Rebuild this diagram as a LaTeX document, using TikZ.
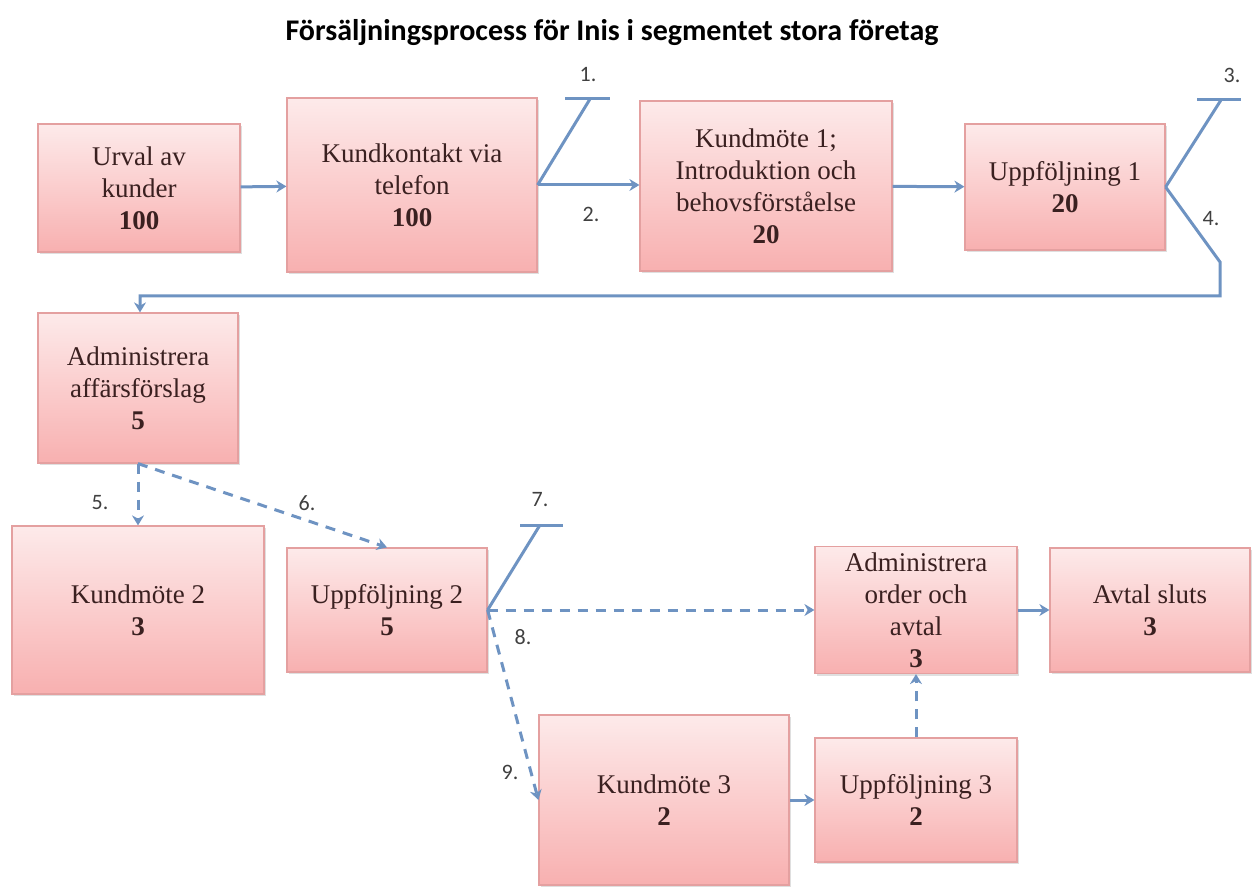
\documentclass[tikz,border=0pt]{standalone}
\usepackage{fontspec}
\setmainfont{Liberation Serif}
\newfontfamily\titlefont{Carlito}
\usetikzlibrary{arrows.meta,shadows}
\definecolor{boxtop}{HTML}{FDEAEA}
\definecolor{boxbot}{HTML}{F8B0B0}
\definecolor{boxedge}{HTML}{E4A0A0}
\definecolor{boxtext}{HTML}{3A2020}
\definecolor{flowblue}{HTML}{6E93C2}

\begin{document}
\begin{tikzpicture}[
      x=0.5pt, y=-0.5pt,
      box/.style={draw=boxedge, line width=0.6pt, top color=boxtop, bottom color=boxbot,
                  align=center, inner sep=3pt, text=boxtext,
                  font=\fontsize{13.5}{16}\selectfont,
                  drop shadow={shadow xshift=1pt, shadow yshift=-1pt, opacity=0.25}},
      num/.style={font=\titlefont\fontsize{11}{12}\selectfont, text=black!75},
      flow/.style={draw=flowblue, line width=1.5pt},
      arr/.style={flow, -{Stealth[length=5pt, width=6pt]}},
      darr/.style={arr, dash pattern=on 5pt off 4pt}
    ]
    \useasboundingbox (0,0) rectangle (1253,887);

    \node[font=\titlefont\bfseries\fontsize{15}{17}\selectfont] (title) at (612,33)
      {Försäljningsprocess för Inis i segmentet stora företag};

    % rad 1
    \node[box, minimum width=101pt, minimum height=64pt] (urval) at (139,188)
      {Urval av\\kunder\\\textbf{100}};
    \node[box, minimum width=125pt, minimum height=87pt] (kontakt) at (412,185)
      {Kundkontakt via\\telefon\\\textbf{100}};
    \node[box, minimum width=126pt, minimum height=85pt] (mote1) at (766,186)
      {Kundmöte 1;\\Introduktion och\\behovsförståelse\\\textbf{20}};
    \node[box, minimum width=100pt, minimum height=63pt] (uppf1) at (1065,187)
      {Uppföljning 1\\\textbf{20}};

    % rad 2
    \node[box, minimum width=100pt, minimum height=75pt] (adm) at (138,388)
      {Administrera\\affärsförslag\\\textbf{5}};

    % rad 3
    \node[box, minimum width=126pt, minimum height=84pt] (mote2) at (138,610)
      {Kundmöte 2\\\textbf{3}};
    \node[box, minimum width=100pt, minimum height=62pt] (uppf2) at (387,610)
      {Uppföljning 2\\\textbf{5}};
    \node[box, minimum width=101pt, minimum height=62pt] (order) at (916,610)
      {Administrera\\order och\\avtal\\\textbf{3}};
    \node[box, minimum width=100pt, minimum height=62pt] (avtal) at (1150,610)
      {Avtal sluts\\\textbf{3}};

    % rad 4
    \node[box, minimum width=125pt, minimum height=85pt] (mote3) at (664,800)
      {Kundmöte 3\\\textbf{2}};
    \node[box, minimum width=101pt, minimum height=62pt] (uppf3) at (916,800)
      {Uppföljning 3\\\textbf{2}};

    % avhopp
    \coordinate (t1) at (590,99);
    \coordinate (t1l) at (565,99);
    \coordinate (t1r) at (610,99);
    \coordinate (t3) at (1221,100);
    \coordinate (t3l) at (1197,100);
    \coordinate (t3r) at (1241,100);
    \coordinate (t7) at (540,525);
    \coordinate (t7l) at (520,525);
    \coordinate (t7r) at (563,525);
    \coordinate (k4a) at (1220,262);
    \coordinate (k4b) at (1220,296);
    \coordinate (k4c) at (140,296);

    \draw[arr] (urval) -- (kontakt);
    \draw[flow] (kontakt.east) -- (t1);
    \draw[flow] (t1l) -- (t1r);
    \draw[arr] (kontakt.east) -- (mote1.west |- kontakt.east);
    \draw[arr] (mote1) -- (uppf1);
    \draw[flow] (uppf1.east) -- (t3);
    \draw[flow] (t3l) -- (t3r);
    \draw[arr] (uppf1.east) -- (k4a) -- (k4b) -- (k4c) -- (k4c |- adm.north);

    \draw[darr] (adm.south) -- (mote2.north);
    \draw[darr] (adm.south) -- (uppf2.north);
    \draw[flow] (uppf2.east) -- (t7);
    \draw[flow] (t7l) -- (t7r);
    \draw[darr] (uppf2.east) -- (order.west);
    \draw[darr] (uppf2.east) -- (mote3.west);
    \draw[arr] (mote3) -- (uppf3);
    \draw[darr] (uppf3) -- (order);
    \draw[arr] (order) -- (avtal);

    \node[num] (lab1) at (588,75) {1.};
    \node[num] (lab2) at (591,214) {2.};
    \node[num] (lab3) at (1232,75) {3.};
    \node[num] (lab4) at (1211,219) {4.};
    \node[num] (lab5) at (100,503) {5.};
    \node[num] (lab6) at (307,503) {6.};
    \node[num] (lab7) at (540,500) {7.};
    \node[num] (lab8) at (523,637) {8.};
    \node[num] (lab9) at (510,772) {9.};
  \end{tikzpicture}
\end{document}
